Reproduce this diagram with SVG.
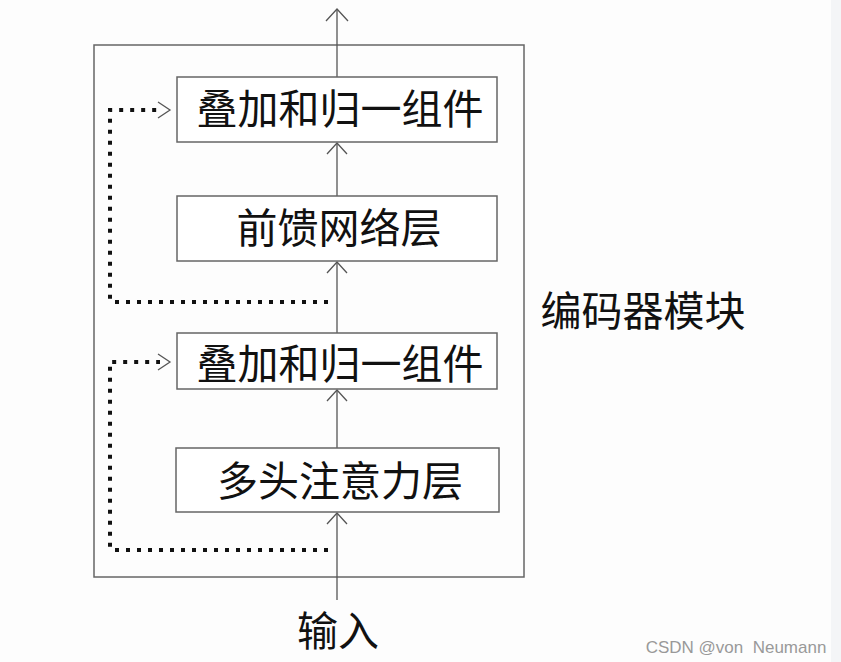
<svg xmlns="http://www.w3.org/2000/svg" width="841" height="662" viewBox="0 0 841 662">
<defs>
<style>
.box{fill:#fff;stroke:#666;stroke-width:1.5}
.t{font-family:"Noto Sans CJK SC","Noto Sans",sans-serif;font-size:41px;fill:#111;text-anchor:middle}
.line{stroke:#555;stroke-width:1.3;fill:none}
.head{stroke:#555;stroke-width:1.3;fill:none}
.dot{stroke:#111;stroke-width:4;fill:none;stroke-dasharray:4 7}
</style>
</defs>
<rect width="841" height="662" fill="#fdfdfd"/>
<rect x="831" y="0" width="10" height="662" fill="#f4f5f7"/>
<g id="encoder">
<rect x="94" y="45" width="430" height="532" fill="none" stroke="#666" stroke-width="1.5"/>
<text x="643" y="326" class="t">编码器模块</text>
</g>
<g id="connectors">
<line class="line" x1="337" y1="77" x2="337" y2="9"/>
<path class="head" d="M326 21 L337 9 L348 21"/>
<line class="line" x1="337" y1="196" x2="337" y2="143"/>
<path class="head" d="M327 154 L337 143 L347 154"/>
<line class="line" x1="337" y1="333" x2="337" y2="262"/>
<path class="head" d="M327 273 L337 262 L347 273"/>
<line class="line" x1="337" y1="448" x2="337" y2="390"/>
<path class="head" d="M327 401 L337 390 L347 401"/>
<line class="line" x1="337" y1="600" x2="337" y2="513"/>
<path class="head" d="M327 524 L337 513 L347 524"/>
<path class="dot" d="M328 302 L112 302 L110 300 L110 110 L160 110"/>
<path class="head" d="M158 102 L170 110 L158 118"/>
<path class="dot" d="M328 550 L112 550 L110 548 L110 362 L160 362"/>
<path class="head" d="M158 354 L170 362 L158 370"/>
</g>
<g id="add-norm-top">
<rect class="box" x="177" y="77" width="320" height="65"/>
<text x="340" y="124" class="t">叠加和归一组件</text>
</g>
<g id="ffn">
<rect class="box" x="177" y="196" width="320" height="65"/>
<text x="339" y="243" class="t">前馈网络层</text>
</g>
<g id="add-norm-bottom">
<rect class="box" x="177" y="333" width="320" height="56"/>
<text x="340" y="379" class="t">叠加和归一组件</text>
</g>
<g id="mha">
<rect class="box" x="176" y="448" width="323" height="64"/>
<text x="340" y="496" class="t">多头注意力层</text>
</g>
<g id="input">
<text x="338" y="646" class="t">输入</text>
</g>
<text x="736" y="653" font-family="Liberation Sans, Arial, sans-serif" font-size="17" fill="#999" text-anchor="middle" xml:space="preserve">CSDN @von  Neumann</text>
</svg>
